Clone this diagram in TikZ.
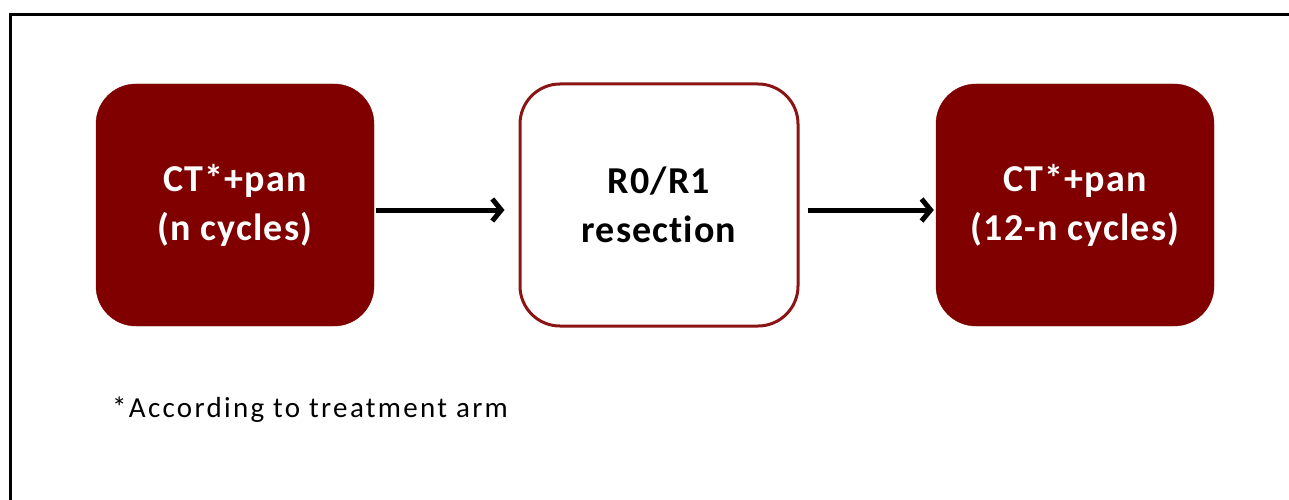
\documentclass[tikz,border=0pt]{standalone}
\usepackage{fontspec}
\setmainfont{Carlito}[Ligatures=NoCommon]
\usetikzlibrary{arrows.meta}
\definecolor{maroon}{HTML}{800000}
\definecolor{maroonline}{HTML}{8B1515}
\begin{document}
\begin{tikzpicture}[x=1pt,y=-1pt,
  boxfont/.style={font=\addfontfeatures{LetterSpace=3}\bfseries\fontsize{38}{49}\selectfont},
  filledbox/.style={rounded corners=40pt, fill=maroon, draw=maroon, minimum width=278pt, minimum height=242pt, text=white, boxfont, align=center, inner sep=0pt},
  openbox/.style={rounded corners=40pt, fill=white, draw=maroonline, line width=3pt, minimum width=278pt, minimum height=242pt, text=black, boxfont, align=center, inner sep=0pt},
  flow/.style={line width=5pt, -{Straight Barb[length=9pt,width=22pt]}}]
\useasboundingbox (0,0) rectangle (1289,500);
\fill[white] (0,0) rectangle (1289,500);
\draw[line width=3pt, black] (10.5,520) -- (10.5,14.5) -- (1310,14.5);
\node[filledbox] (a) at (235,205) {CT*+pan\\(n cycles)};
\node[openbox] (b) at (659,205) {R0/R1\\resection};
\node[filledbox] (c) at (1075,205) {CT*+pan\\(12-n cycles)};
\coordinate (a1) at ([xshift=2pt,yshift=-5pt]a.east);
\coordinate (b1) at ([xshift=-14pt,yshift=-5pt]b.west);
\coordinate (b2) at ([xshift=8pt,yshift=-5pt]b.east);
\coordinate (c1) at ([xshift=-2pt,yshift=-5pt]c.west);
\draw[flow] (a1) -- (b1);
\draw[flow] (b2) -- (c1);
\node[anchor=west, font=\addfontfeatures{LetterSpace=8}\fontsize{29}{33}\selectfont, inner sep=0pt] (note) at (112,410) {*According to treatment arm};
\end{tikzpicture}
\end{document}
